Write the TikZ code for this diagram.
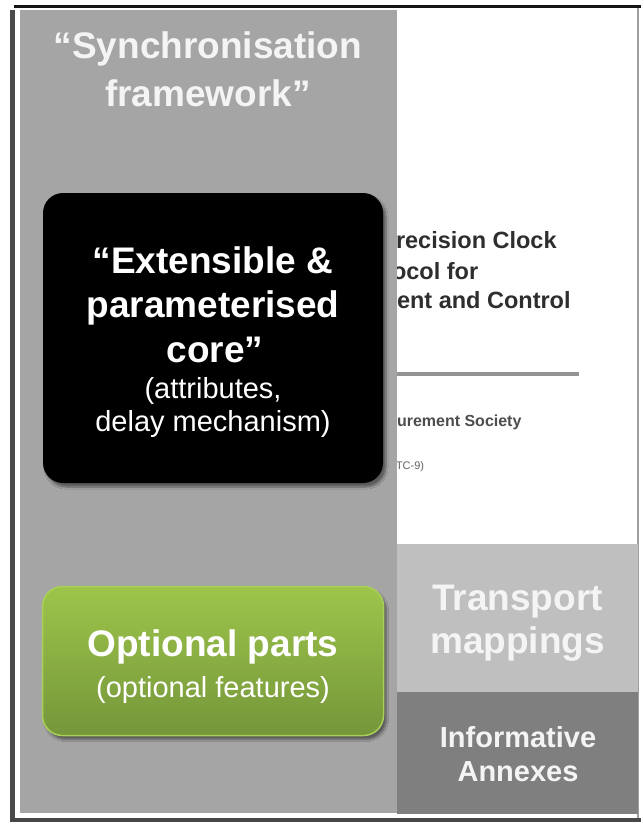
\documentclass[tikz,border=0pt]{standalone}
\usepackage{fontspec}
\setmainfont{Liberation Sans}
\usetikzlibrary{shadows.blur}

\definecolor{panelgray}{HTML}{A5A5A5}
\definecolor{framedark}{HTML}{4A4A4A}
\definecolor{lightbox}{HTML}{BFBFBF}
\definecolor{darkbox}{HTML}{7F7F7F}
\definecolor{greentop}{HTML}{9DC54B}
\definecolor{greenbot}{HTML}{75963A}
\definecolor{greenedge}{HTML}{A8D058}
\definecolor{softwhite}{HTML}{F4F4F4}
\definecolor{doctext}{HTML}{2E2E2E}

\tikzset{
  every node/.style={inner sep=0pt, outer sep=0pt},
  headline/.style={anchor=base, text=softwhite, font=\fontsize{37}{44}\selectfont\bfseries},
  boldline/.style={anchor=base, text=white, font=\fontsize{37}{44}\selectfont\bfseries},
  plainline/.style={anchor=base, text=white, font=\fontsize{29}{33}\selectfont},
  annexline/.style={anchor=base, text=softwhite, font=\fontsize{29}{34}\selectfont\bfseries},
  docline/.style={anchor=base west, text=doctext, font=\fontsize{23.5}{28}\selectfont\bfseries},
  roundbox/.style={rounded corners=20pt,
    blur shadow={shadow xshift=3pt, shadow yshift=-4pt, shadow blur steps=6, shadow opacity=45}},
}

\begin{document}
\begin{tikzpicture}[x=1pt, y=-1pt]
  \useasboundingbox (0,0) rectangle (641,824);
  \fill[white] (0,0) rectangle (641,824);

  % the standard's cover page, partly hidden by the grey panel
  \fill[white] (397,8) rectangle (637,814);
  \node[docline] (d1) at (396,248) {recision Clock};
  \node[docline] (d2) at (392,279) {ocol for};
  \node[docline] (d3) at (397,308) {ent and Control};
  \draw[line width=4pt, draw=gray!85] (390,374) -- (579,374);
  \node[docline, font=\fontsize{16}{19}\selectfont\bfseries, text=doctext!85] (d4) at (397,426) {urement Society};
  \node[docline, font=\fontsize{11}{13}\selectfont, text=doctext!75] (d5) at (396,469) {TC-9)};

  % frame lines
  \fill[black!92] (14,5) rectangle (641,8);
  \fill[framedark] (10,10) rectangle (15,822);
  \fill[black!72] (10,818) rectangle (641,822);
  \fill[gray!75] (637,8) rectangle (639,818);

  % grey panel
  \fill[panelgray] (20,10) rectangle (397,813);

  % transport mappings and annexes
  \node[fill=lightbox, minimum width=241pt, minimum height=148pt] (tm) at (517.5,618) {};
  \node[fill=darkbox, minimum width=241pt, minimum height=122pt] (ia) at (517.5,753) {};
  \node[headline] (tm1) at (517.5,610) {Transport};
  \node[headline] (tm2) at (517.5,653) {mappings};
  \node[annexline] (ia1) at (518,747) {Informative};
  \node[annexline] (ia2) at (518,781) {Annexes};

  % framework title
  \node[headline] (t1) at (208,59) {“Synchronisation};
  \node[headline] (t2) at (208,107) {framework”};

  % core box
  \node[roundbox, fill=black, minimum width=340pt, minimum height=290pt] (core) at (213,338) {};
  \node[boldline] (c1) at (213,273) {“Extensible \&};
  \node[boldline] (c2) at (213,317) {parameterised};
  \node[boldline] (c3) at (215,362) {core”};
  \node[plainline] (c4) at (213,398) {(attributes,};
  \node[plainline] (c5) at (213,431) {delay mechanism)};

  % optional parts box
  \node[roundbox, draw=greenedge, line width=1.5pt, top color=greentop, bottom color=greenbot,
        minimum width=341pt, minimum height=149pt] (opt) at (213,661) {};
  \node[boldline] (o1) at (213,656) {Optional parts};
  \node[plainline] (o2) at (213,697) {(optional features)};
\end{tikzpicture}
\end{document}
